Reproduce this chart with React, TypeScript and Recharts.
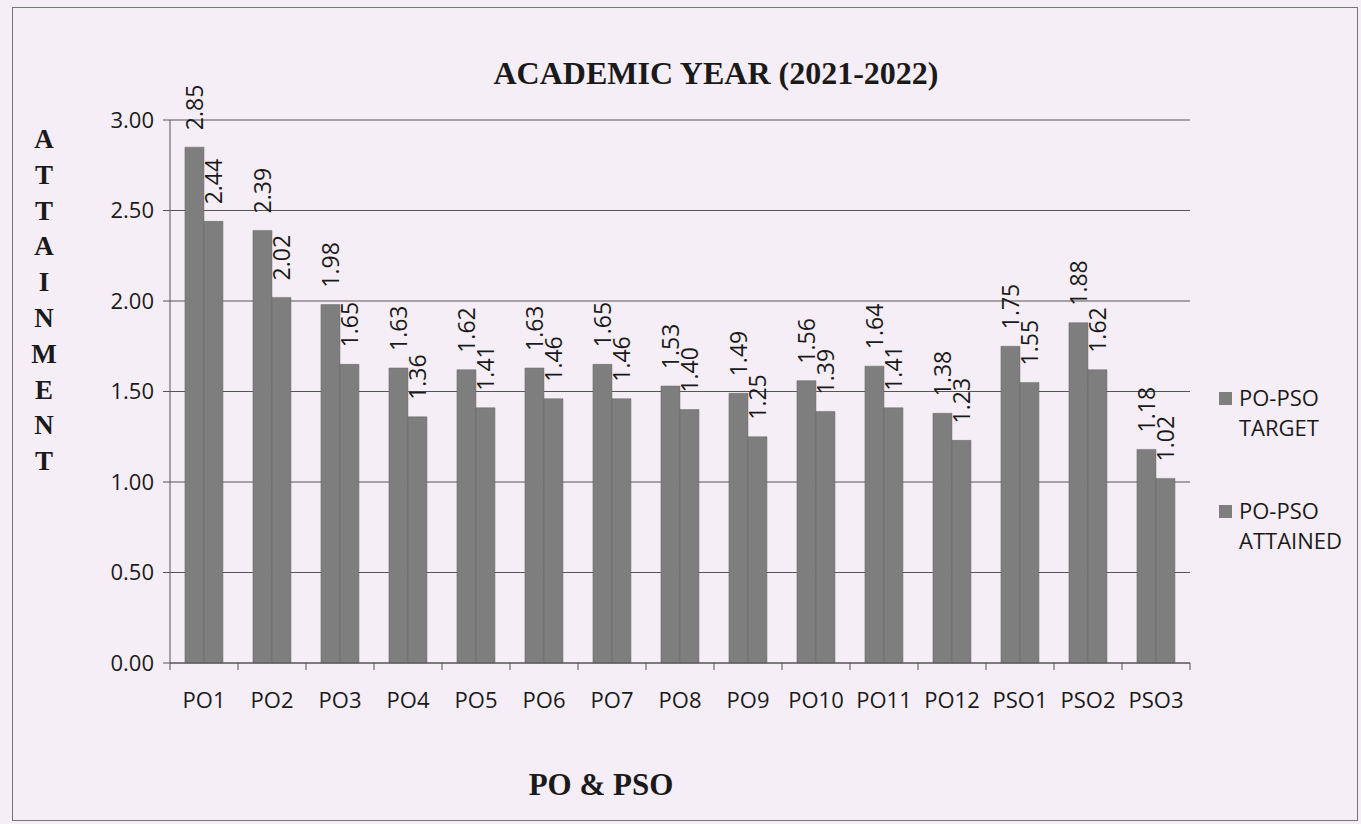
import { BarChart, Bar, XAxis, YAxis, CartesianGrid, LabelList } from 'recharts';

const CATEGORIES = ['PO1', 'PO2', 'PO3', 'PO4', 'PO5', 'PO6', 'PO7', 'PO8', 'PO9', 'PO10', 'PO11', 'PO12', 'PSO1', 'PSO2', 'PSO3'];
const TARGET = [2.85, 2.39, 1.98, 1.63, 1.62, 1.63, 1.65, 1.53, 1.49, 1.56, 1.64, 1.38, 1.75, 1.88, 1.18];
const ATTAINED = [2.44, 2.02, 1.65, 1.36, 1.41, 1.46, 1.46, 1.40, 1.25, 1.39, 1.41, 1.23, 1.55, 1.62, 1.02];
const Y_TICKS = [0, 0.5, 1, 1.5, 2, 2.5, 3];
const Y_LABEL = 'ATTAINMENT';
const LEGEND = [
  ['PO-PSO', 'TARGET'],
  ['PO-PSO', 'ATTAINED'],
];

const data = CATEGORIES.map((name, i) => ({ name, target: TARGET[i], attained: ATTAINED[i] }));

const W = 1361;
const H = 824;
const BG = '#f6eef6';
const BAR = '#7e7e7e';
const LINE = '#555';
const INK = '#1a1a1a';
const SANS = '"Open Sans", "Liberation Sans", sans-serif';
const SERIF = '"Liberation Serif", "Times New Roman", serif';

const PLOT_LEFT = 170;
const PLOT_RIGHT = 1190;
const BAND = (PLOT_RIGHT - PLOT_LEFT) / CATEGORIES.length;

function XTick(props: any) {
  const { x, y, payload, index } = props;
  const last = index === CATEGORIES.length - 1;
  return (
    <g>
      <line x1={x - BAND / 2} x2={x - BAND / 2} y1={y - 8} y2={y - 1} stroke={LINE} />
      {last && <line x1={x + BAND / 2} x2={x + BAND / 2} y1={y - 8} y2={y - 1} stroke={LINE} />}
      <text x={x} y={y + 37} textAnchor="middle" fontFamily={SANS} fontSize={22} fill={INK}>
        {payload.value}
      </text>
    </g>
  );
}

function ValueLabel(props: any) {
  const { x, y, width, value } = props;
  const cx = x + width / 2;
  const cy = y - 17;
  return (
    <text
      x={cx}
      y={cy}
      transform={`rotate(-90 ${cx} ${cy})`}
      textAnchor="start"
      dominantBaseline="central"
      fontFamily={SANS}
      fontSize={23}
      fill={INK}
    >
      {Number(value).toFixed(2)}
    </text>
  );
}

export default function App() {
  return (
    <div style={{ position: 'absolute', left: 0, top: 0, width: W, height: H, background: BG, overflow: 'hidden' }}>
      <div
        style={{
          position: 'absolute',
          left: 12,
          top: 7,
          width: 1346,
          height: 814,
          border: '1.5px solid #777',
          boxSizing: 'border-box',
        }}
      />
      <BarChart
        width={W}
        height={H}
        data={data}
        margin={{ top: 120, right: W - PLOT_RIGHT, bottom: 121, left: 100 }}
        barCategoryGap="22%"
        barGap={0}
        style={{ position: 'absolute', left: 0, top: 0 }}
      >
        <CartesianGrid vertical={false} stroke={LINE} strokeWidth={1} />
        <XAxis
          dataKey="name"
          axisLine={{ stroke: LINE }}
          tickLine={false}
          tick={<XTick />}
          height={40}
          interval={0}
        />
        <YAxis
          domain={[0, 3]}
          ticks={Y_TICKS}
          tickFormatter={(v: number) => v.toFixed(2)}
          axisLine={{ stroke: LINE }}
          tickLine={{ stroke: LINE }}
          tickSize={7}
          tickMargin={9}
          width={70}
          tick={{ fontFamily: SANS, fontSize: 22, fill: INK }}
        />
        <Bar dataKey="target" name="PO-PSO TARGET" fill={BAR} stroke="#666" strokeWidth={0.5} isAnimationActive={false}>
          <LabelList dataKey="target" content={<ValueLabel />} />
        </Bar>
        <Bar dataKey="attained" name="PO-PSO ATTAINED" fill={BAR} stroke="#666" strokeWidth={0.5} isAnimationActive={false}>
          <LabelList dataKey="attained" content={<ValueLabel />} />
        </Bar>
      </BarChart>
      <div style={{ position: 'absolute', left: 1219, top: 382, fontFamily: SANS, fontSize: 22, color: INK }}>
        {LEGEND.map((lines, i) => (
          <div key={i} style={{ display: 'flex', alignItems: 'flex-start', marginBottom: i === 0 ? 53 : 0 }}>
            <div style={{ width: 13, height: 13, background: BAR, marginTop: 10, marginRight: 7 }} />
            <div style={{ lineHeight: '30px' }}>
              {lines.map((l) => (
                <div key={l}>{l}</div>
              ))}
            </div>
          </div>
        ))}
      </div>
      <svg width={W} height={H} style={{ position: 'absolute', left: 0, top: 0, pointerEvents: 'none' }}>
        <text x={716} y={84} textAnchor="middle" fontFamily={SERIF} fontWeight="bold" fontSize={32} fill={INK}>
          ACADEMIC YEAR (2021-2022)
        </text>
        <text x={601} y={795} textAnchor="middle" fontFamily={SERIF} fontWeight="bold" fontSize={31} fill={INK}>
          PO &amp; PSO
        </text>
        {Y_LABEL.split('').map((ch, i) => (
          <text key={i} x={44} y={148 + i * 35.8} textAnchor="middle" fontFamily={SERIF} fontWeight="bold" fontSize={27} fill={INK}>
            {ch}
          </text>
        ))}
      </svg>
    </div>
  );
}
